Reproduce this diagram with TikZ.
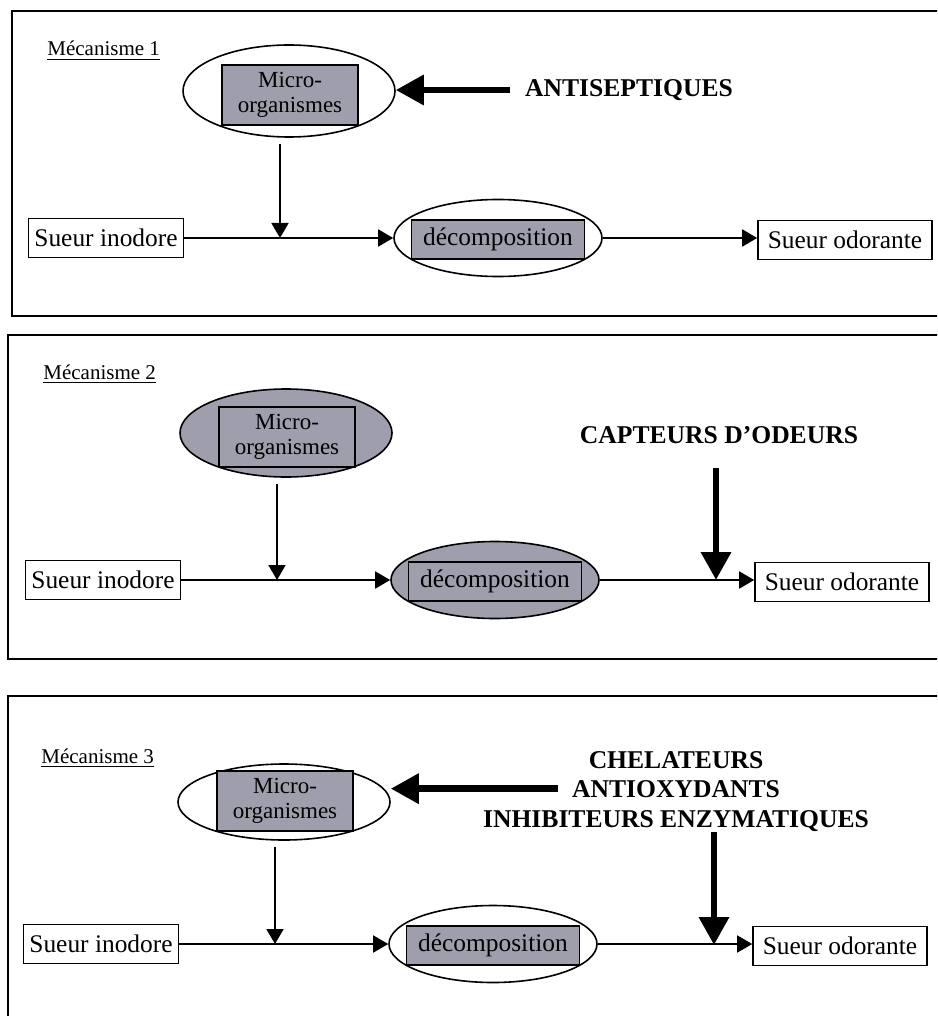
\documentclass[tikz,border=0pt]{standalone}
\usepackage{fontspec}
\setmainfont{Liberation Serif}
\usetikzlibrary{arrows.meta,shapes.geometric,positioning}
\definecolor{gris}{RGB}{158,158,172}
\tikzset{
  cadre/.style={line width=0.9pt},
  boite/.style={draw, line width=0.8pt, minimum width=77.5pt, minimum height=19.5pt, inner sep=0pt, font=\fontsize{12.7}{14}\selectfont},
  bulle/.style={ellipse, draw, line width=0.8pt, inner sep=0pt},
  grisbox/.style={draw, fill=gris, line width=0.8pt, inner sep=0pt, align=center},
  fleche/.style={line width=0.9pt, -{Triangle[length=7.5pt,width=8.5pt]}},
  gros/.style={line width=3.2pt, -{Triangle[length=14pt,width=14.5pt]}},
  reactif/.style={font=\fontsize{12.8}{14}\selectfont\bfseries},
  titre/.style={font=\fontsize{10.5}{12}\selectfont, anchor=base west, inner sep=0pt}
}
\begin{document}
\begin{tikzpicture}[x=0.5pt, y=-0.5pt]
  \useasboundingbox (0,0) rectangle (937,1016);
  \clip (0,0) rectangle (937,1016);

  % cadres
  \draw[cadre] (12,11) rectangle (950,316);
  \draw[cadre] (8,335) rectangle (950,659);
  \draw[cadre] (950,696) -- (8,696) -- (8,1030);

  \node[titre] (mec1) at (47,56) {\underline{Mécanisme 1}};
  \node[titre] (mec2) at (43,379) {\underline{Mécanisme 2}};
  \node[titre] (mec3) at (41,763) {\underline{Mécanisme 3}};

  % chaines sueur -> decomposition -> odeur
  \foreach \dx/\y/\fc/\my/\mh [count=\n] in {0/238/white/-147/46pt, -3/580/gris/-147/44pt, -5/944/white/-142/38pt}
  {
    \begin{scope}[shift={(\dx,\y)}]
      \node (mic\n) [bulle, fill=\fc, minimum width=106pt, minimum height=\mh] at (289,\my) {};
      \node (micr\n) [grisbox, minimum width=68pt, minimum height=30pt, font=\fontsize{11.5}{12.5}\selectfont] at (290,-143) {Micro-\\organismes};
      \node (sin\n) [boite] at (106,0) {Sueur inodore};
      \node (dec\n) [bulle, fill=\fc, minimum width=104pt, minimum height=38.5pt] at (498,0) {};
      \node (decr\n) [grisbox, minimum width=86.5pt, minimum height=19.5pt, font=\fontsize{12.7}{14}\selectfont] at (498,1.5) {décomposition};
      \node (sod\n) [boite, minimum width=87pt] at (845,2) {Sueur odorante};
      \coordinate (j\n) at (280,0);
      \draw[fleche] (sin\n) -- (dec\n);
      \draw[fleche] (dec\n) -- (dec\n.east -| sod\n.west);
      \draw[fleche] (mic\n.south -| j\n) ++(0,6) -- (j\n);
    \end{scope}
  }

  % produits
  \node[reactif] (anti) at (629,90) {ANTISEPTIQUES};
  \draw[gros, shorten <=4pt] (anti.west) -- (anti.west -| mic1.east);

  \node[reactif] (capt) at (719,435) {CAPTEURS D’ODEURS};
  \coordinate (k2) at (716,580);
  \draw[gros] (capt.base -| k2) ++(0,25) -- (k2);

  \node[reactif, anchor=base] (chel) at (676,768) {CHELATEURS};
  \node[reactif, anchor=base] (antiox) at (676,797) {ANTIOXYDANTS};
  \node[reactif, anchor=base] (inhib) at (676,827) {INHIBITEURS ENZYMATIQUES};
  \coordinate (k3) at (714,945);
  \draw[gros, shorten <=3.5pt] (antiox.west) -- (antiox.west -| mic3.east);
  \draw[gros] (inhib.base -| k3) ++(0,5) -- (k3);
\end{tikzpicture}
\end{document}
